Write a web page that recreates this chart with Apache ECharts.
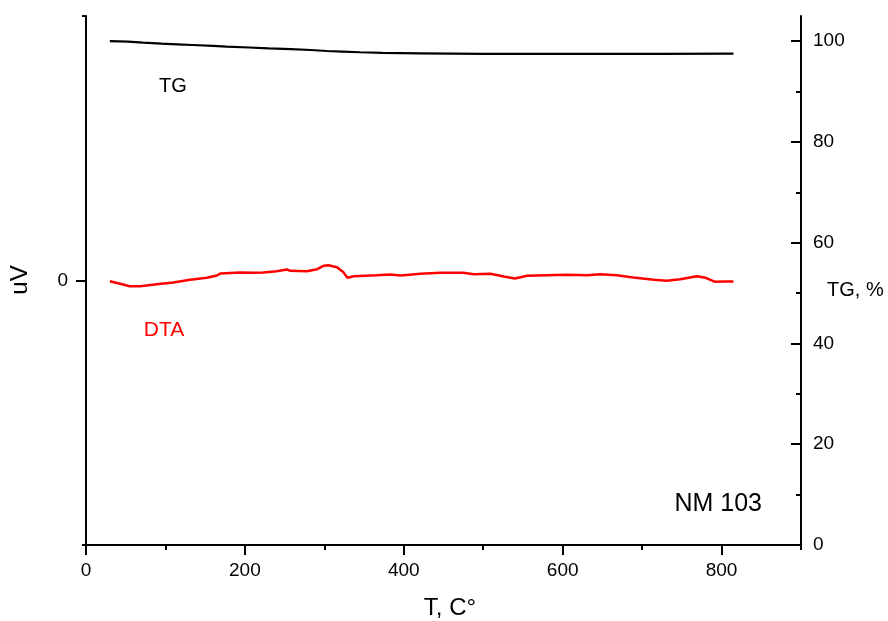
<!DOCTYPE html>
<html>
<head>
<meta charset="utf-8">
<script src="https://cdn.jsdelivr.net/npm/echarts@6/dist/echarts.min.js"></script>
<style>
  html, body { margin: 0; padding: 0; background: #fff; }
  #chart { width: 888px; height: 621px; }
</style>
</head>
<body>
<div id="chart"></div>
<script>
// Thermogravimetric curve (mass, %) versus temperature
const tgTemp  = [30, 53, 72, 95, 115, 134, 160, 177, 205, 230, 258, 283, 303, 323, 345, 373, 421, 500, 725, 815];
const tgValue = [100.0, 99.9, 99.7, 99.5, 99.37, 99.24, 99.06, 98.94, 98.75, 98.56, 98.43, 98.25, 98.05, 97.93, 97.8, 97.67, 97.6, 97.5, 97.5, 97.55];

// Differential thermal analysis signal (uV) versus temperature
const dtaTemp  = [30, 43, 55, 68, 89, 110, 131, 152, 165, 169, 194, 211, 223, 240, 253, 257, 278, 291, 299, 305, 316, 324, 329, 337, 366, 383,
                  396, 421, 446, 475, 488, 509, 526, 540, 555, 580, 605, 631, 647, 668, 689, 715, 731, 748, 769, 780, 792, 803, 815];
const dtaValue = [-0.13, -0.62, -1.08, -1.08, -0.70, -0.38, 0.13, 0.51, 0.95, 1.32, 1.51, 1.46, 1.51, 1.76, 2.08, 1.83, 1.76, 2.14, 2.78, 2.89, 2.51, 1.57, 0.51, 0.81, 1.0, 1.13,
                  0.95, 1.27, 1.46, 1.46, 1.19, 1.27, 0.76, 0.38, 0.89, 1.0, 1.08, 1.0, 1.19, 1.0, 0.57, 0.13, -0.06, 0.25, 0.81, 0.51, -0.25, -0.19, -0.19];

// Axis ticks
const xMajorTicks = [0, 200, 400, 600, 800];
const xMinorTicks = [100, 300, 500, 700, 900];
const tgMajorTicks = [0, 20, 40, 60, 80, 100];
const tgMinorTicks = [10, 30, 50, 70, 90];
const dtaLabelTicks = [0];
const dtaEndTicks = [-50, 50];

const FONT = '"Liberation Sans", Arial, sans-serif';
const zip = (a, b) => a.map((v, i) => [v, b[i]]);

const chart = echarts.init(document.getElementById('chart'), null, { renderer: 'canvas' });

const lineStyle = { color: '#000', width: 2 };
const plotBox = { left: 86, right: 87, top: 16, bottom: 76, containLabel: false };
const noLine = { show: false, onZero: false };

chart.setOption({
  animation: false,
  backgroundColor: '#ffffff',
  // grid 0 carries the data and the labelled ticks, grid 1 (same box) the short minor ticks
  grid: [Object.assign({}, plotBox), Object.assign({}, plotBox)],
  xAxis: [
    {
      type: 'value', gridIndex: 0, position: 'bottom', min: 0, max: 900, interval: 200,
      axisLine: { show: true, onZero: false, lineStyle },
      axisTick: { show: true, inside: false, length: 10, customValues: xMajorTicks, lineStyle },
      axisLabel: { show: true, customValues: xMajorTicks, margin: 16, color: '#000', fontSize: 19, fontFamily: FONT },
      splitLine: { show: false }
    },
    {
      type: 'value', gridIndex: 1, position: 'bottom', min: 0, max: 900, interval: 100,
      axisLine: noLine,
      axisTick: { show: true, inside: false, length: 5, customValues: xMinorTicks, lineStyle },
      axisLabel: { show: false },
      splitLine: { show: false }
    }
  ],
  yAxis: [
    {
      type: 'value', gridIndex: 0, position: 'left', min: -50, max: 50, interval: 50,
      axisLine: { show: true, onZero: false, lineStyle },
      axisTick: { show: true, inside: false, length: 10, customValues: dtaLabelTicks, lineStyle },
      axisLabel: { show: true, customValues: dtaLabelTicks, margin: 18, color: '#000', fontSize: 19, fontFamily: FONT },
      splitLine: { show: false }
    },
    {
      type: 'value', gridIndex: 0, position: 'right', min: 0, max: 105, interval: 20,
      axisLine: { show: true, onZero: false, lineStyle },
      axisTick: { show: true, inside: true, length: 10, customValues: tgMajorTicks, lineStyle },
      axisLabel: { show: true, customValues: tgMajorTicks, margin: 12, color: '#000', fontSize: 19, fontFamily: FONT },
      splitLine: { show: false }
    },
    {
      type: 'value', gridIndex: 1, position: 'left', min: -50, max: 50, interval: 50,
      axisLine: noLine,
      axisTick: { show: true, inside: false, length: 4, customValues: dtaEndTicks, lineStyle },
      axisLabel: { show: false },
      splitLine: { show: false }
    },
    {
      type: 'value', gridIndex: 1, position: 'right', min: 0, max: 105, interval: 10,
      axisLine: noLine,
      axisTick: { show: true, inside: true, length: 5, customValues: tgMinorTicks, lineStyle },
      axisLabel: { show: false },
      splitLine: { show: false }
    }
  ],
  series: [
    {
      name: 'TG', type: 'line', xAxisIndex: 0, yAxisIndex: 1,
      data: zip(tgTemp, tgValue), showSymbol: false, symbol: 'none',
      lineStyle: { color: '#000', width: 2.2 }, z: 3
    },
    {
      name: 'DTA', type: 'line', xAxisIndex: 0, yAxisIndex: 0,
      data: zip(dtaTemp, dtaValue), showSymbol: false, symbol: 'none',
      lineStyle: { color: '#ff0000', width: 2.5 }, z: 3
    }
  ],
  graphic: [
    { type: 'text', x: 20, y: 280, rotation: Math.PI / 2,
      style: { text: 'uV', fill: '#000', font: '24px ' + FONT, align: 'center', verticalAlign: 'middle' } },
    { type: 'text', x: 450, y: 608,
      style: { text: 'T, C°', fill: '#000', font: '24px ' + FONT, align: 'center', verticalAlign: 'middle' } },
    { type: 'text', x: 827, y: 290,
      style: { text: 'TG, %', fill: '#000', font: '20px ' + FONT, align: 'left', verticalAlign: 'middle' } },
    { type: 'text', x: 173, y: 86,
      style: { text: 'TG', fill: '#000', font: '20px ' + FONT, align: 'center', verticalAlign: 'middle' } },
    { type: 'text', x: 164, y: 330,
      style: { text: 'DTA', fill: '#ff0000', font: '21px ' + FONT, align: 'center', verticalAlign: 'middle' } },
    { type: 'text', x: 762, y: 504,
      style: { text: 'NM 103', fill: '#000', font: '25px ' + FONT, align: 'right', verticalAlign: 'middle' } }
  ]
});
</script>
</body>
</html>
